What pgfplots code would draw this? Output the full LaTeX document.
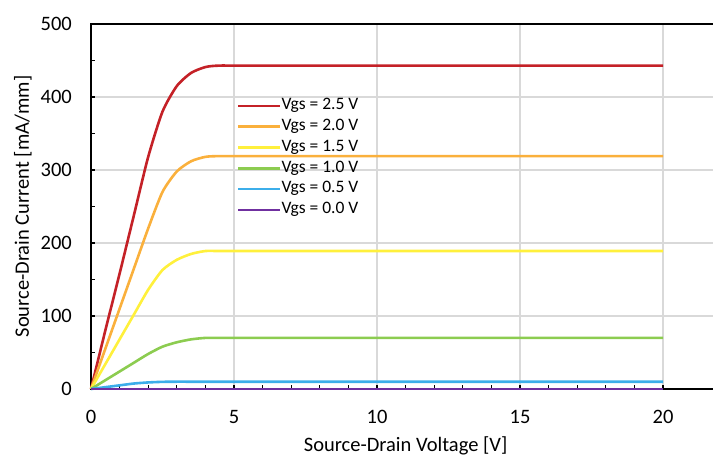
\documentclass[border=0pt]{standalone}
\usepackage{pgfplots}
\pgfplotsset{compat=1.18}
\usepackage{fontspec}
\setmainfont{Carlito}
\definecolor{cRed}{RGB}{196,33,39}
\definecolor{cOrange}{RGB}{250,176,60}
\definecolor{cYellow}{RGB}{255,240,60}
\definecolor{cGreen}{RGB}{140,204,80}
\definecolor{cBlue}{RGB}{60,174,234}
\definecolor{cPurple}{RGB}{112,48,160}
\definecolor{gridgray}{RGB}{217,217,217}
\begin{document}
\begin{tikzpicture}
\begin{axis}[
  at={(0,0)}, anchor=south west,
  scale only axis, width=629.2bp, height=365bp,
  xmin=0, xmax=22, ymin=0, ymax=500,
  xtick={0,5,10,15,20}, ytick={0,100,...,500},
  minor x tick num=4, minor y tick num=1,
  xtick pos=left, ytick pos=left,
  tick align=inside,
  major tick length=4bp, minor tick length=4bp,
  tick style={black, line width=1.2bp},
  grid=major, major grid style={color=gridgray, line width=2bp},
  axis line style={black, line width=1.6bp},
  clip=false,
  /pgf/number format/assume math mode=true,
  ticklabel style={font=\fontsize{20.5bp}{24bp}\selectfont},
  yticklabel style={anchor=east, inner sep=0pt, xshift=-19bp},
  xticklabel style={anchor=north, inner sep=0pt, yshift=-21bp},
  xlabel={Source-Drain Voltage [V]},
  ylabel={Source-Drain Current [mA/mm]},
  label style={font=\fontsize{20.5bp}{24bp}\selectfont},
  xlabel style={at={(rel axis cs:0.5,0)}, anchor=base, inner sep=0pt, yshift=-62bp},
  ylabel style={at={(rel axis cs:0,0.5)}, anchor=base, inner sep=0pt, yshift=62bp},
  legend style={at={(axis cs:5.1,398)}, anchor=north west, draw=none, fill=none,
    font=\fontsize{17.5bp}{20bp}\selectfont, row sep=6.3bp, inner sep=0pt,
    nodes={inner sep=0pt, text height=11bp, text depth=3.5bp}},
  legend cell align=left,
  legend image code/.code={\draw[#1, line width=2.5bp] (0bp,0bp) -- (42bp,0bp);},
  every axis plot/.append style={line width=2.6bp, smooth, tension=0.4},
]
\addplot[cRed] coordinates {(0,0)(0.5,80)(1,158)(1.5,238)(2,318)(2.5,380)(3,415)(3.5,433)(4,441)(4.5,443)(6,443)(20,443)};
\addlegendentry{Vgs = 2.5 V}
\addplot[cOrange] coordinates {(0,0)(0.5,55)(1,110)(1.5,165)(2,220)(2.5,270)(3,298)(3.5,312)(4,318)(4.5,319)(6,319)(20,319)};
\addlegendentry{Vgs = 2.0 V}
\addplot[cYellow] coordinates {(0,0)(0.5,34)(1,68)(1.5,102)(2,136)(2.5,163)(3,177)(3.5,185)(4,189)(4.5,189)(6,189)(20,189)};
\addlegendentry{Vgs = 1.5 V}
\addplot[cGreen] coordinates {(0,0)(0.5,12)(1,24)(1.5,36)(2,48)(2.5,58)(3,64)(3.5,68)(4,70)(4.5,70)(6,70)(20,70)};
\addlegendentry{Vgs = 1.0 V}
\addplot[cBlue] coordinates {(0,0)(0.5,2.5)(1,5)(1.5,7.5)(2,9)(2.5,9.8)(3,10)(4,10)(20,10)};
\addlegendentry{Vgs = 0.5 V}
\addplot[cPurple] coordinates {(0,0)(5,0)(10,0)(20,0)};
\addlegendentry{Vgs = 0.0 V}
\end{axis}
\pgfresetboundingbox
\path[use as bounding box] (-91bp,-68bp) rectangle (622bp,389bp);
\end{tikzpicture}
\end{document}
